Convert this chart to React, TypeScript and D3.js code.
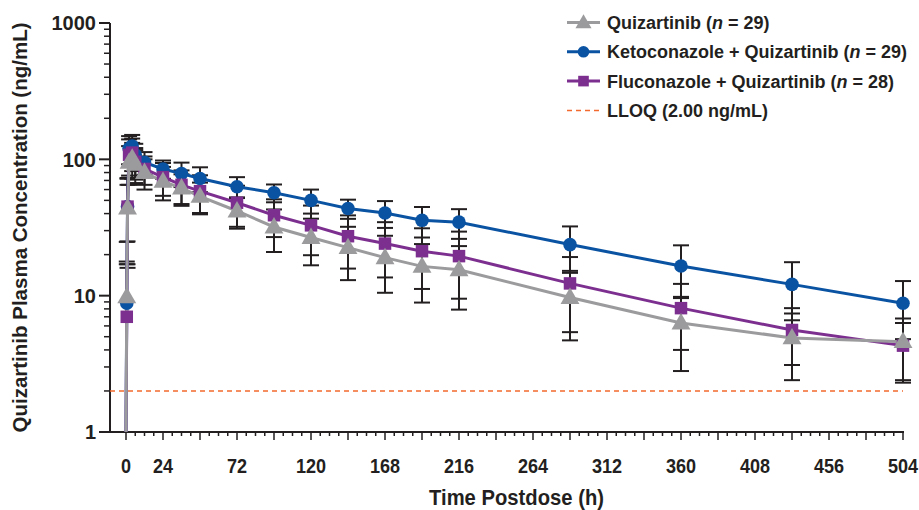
import React from 'react';
import * as d3 from 'd3';

// sampling times (h) and mean ± SD concentrations (ng/mL)
const times = [0, 0.5, 1, 2, 4, 6, 12, 24, 36, 48, 72, 96, 120, 144, 168, 192, 216, 288, 360, 432, 504];

const quizMean = [0, 9.8, 44, 95, 102, 92, 80, 69, 61.6, 53.5, 41.8, 31.9, 26.7, 22.5, 19.0, 16.4, 15.5, 9.7, 6.3, 4.9, 4.6];
const quizSd = [0, 15, 28, 30, 30, 25, 20, 19, 16, 14, 10.8, 11, 10, 9.5, 8.5, 7.5, 7.6, 5, 3.5, 2.5, 2.2];

const ketoMean = [0, 8.8, 45, 120, 125, 108, 95, 85, 78.6, 72.4, 63, 56.9, 50, 43.6, 40.4, 35.7, 34.6, 23.7, 16.5, 12.1, 8.8];
const ketoSd = [0, 9, 20, 28, 26, 22, 18, 13, 16, 15, 11, 8.5, 10, 7, 9, 9, 8.5, 8.5, 6.9, 5.5, 4.0];

const flucoMean = [0, 7.0, 45, 108, 112, 96, 85, 74, 65, 58.4, 48, 38.9, 32.8, 27.3, 24.1, 21.2, 19.5, 12.3, 8.1, 5.6, 4.3];
const flucoSd = [0, 10, 28, 32, 30, 25, 20, 20, 18, 18, 16, 12, 13, 11.5, 10.5, 10, 10, 6.9, 4.1, 2.5, 2.0];

const xTickLabels = [0, 24, 72, 120, 168, 216, 264, 312, 360, 408, 456, 504];
const yTickLabels = [1, 10, 100, 1000];
const LLOQ = 2.0;

const series = [
  { key: 'keto', label: 'Ketoconazole + Quizartinib', n: 29, mean: ketoMean, sd: ketoSd, color: '#0a53a3', shape: 'circle' },
  { key: 'fluco', label: 'Fluconazole + Quizartinib', n: 28, mean: flucoMean, sd: flucoSd, color: '#7d2f90', shape: 'square' },
  { key: 'quiz', label: 'Quizartinib', n: 29, mean: quizMean, sd: quizSd, color: '#9b9b9d', shape: 'triangle' },
];
const legendOrder = ['quiz', 'keto', 'fluco'];

const FONT = '"Liberation Sans", Arial, Helvetica, sans-serif';
const INK = '#231f20';

const Marker = ({ shape, x, y, color, size = 1 }: any) => {
  if (shape === 'circle') return <circle cx={x} cy={y} r={6.8 * size} fill={color} />;
  if (shape === 'square') {
    const s = 12.5 * size;
    return <rect x={x - s / 2} y={y - s / 2} width={s} height={s} fill={color} />;
  }
  const tri = d3.symbol(d3.symbolTriangle, 155 * size * size)();
  return <path d={tri as string} transform={`translate(${x},${y + 1})`} fill={color} />;
};

export default function App() {
  const width = 919, height = 510;
  const x = d3.scaleLinear().domain([0, 504]).range([126, 903]);
  const y = d3.scaleLog().domain([1, 1000]).range([432, 23]);
  const axisX = 110;
  const base = y(1);
  const yv = (v: number) => (v > 0 ? y(Math.max(v, 1)) : base);

  const line = d3.line<number>()
    .x((_, i) => x(times[i]))
    .y(d => yv(d));

  const yMinor: number[] = [];
  [1, 10, 100].forEach(dec => d3.range(2, 10).forEach(k => yMinor.push(dec * k)));
  const xTicks = d3.range(0, 505, 6);

  return (
    <svg width={width} height={height} style={{ position: 'absolute', left: 0, top: 0 }} fontFamily={FONT}>
      <rect width={width} height={height} fill="#fff" />

      {/* y axis */}
      <line x1={axisX} x2={axisX} y1={y(1000)} y2={base} stroke={INK} strokeWidth={2} />
      {yTickLabels.map(t => (
        <g key={t}>
          <line x1={axisX - 11} x2={axisX} y1={y(t)} y2={y(t)} stroke={INK} strokeWidth={2} />
          <text x={axisX - 14} y={y(t)} dy="0.36em" textAnchor="end" fontSize={20} fontWeight="bold" fill={INK}>{t}</text>
        </g>
      ))}
      {yMinor.map(t => (
        <line key={t} x1={axisX - 6} x2={axisX} y1={y(t)} y2={y(t)} stroke={INK} strokeWidth={1.5} />
      ))}
      <text transform={`translate(20,${(y(1000) + base) / 2}) rotate(-90)`} textAnchor="middle" dy="0.35em"
        fontSize={20.5} fontWeight="bold" fill={INK}>Quizartinib Plasma Concentration (ng/mL)</text>

      {/* x axis */}
      <line x1={axisX} x2={x(504) + 1} y1={base} y2={base} stroke={INK} strokeWidth={2} />
      {xTicks.map(t => (
        <line key={t} x1={x(t)} x2={x(t)} y1={base} y2={base + (t % 24 === 0 ? 8 : 4)} stroke={INK} strokeWidth={1.5} />
      ))}
      {xTickLabels.map(t => (
        <text key={t} transform={`translate(${x(t)},473) scale(0.88,1)`} textAnchor="middle" fontSize={20.5} fontWeight="bold" fill={INK}>{t}</text>
      ))}
      <text transform={`translate(${(x(0) + x(504)) / 2 + 2},505) scale(0.92,1)`} textAnchor="middle" fontSize={22} fontWeight="bold" fill={INK}>
        Time Postdose (h)
      </text>

      {/* LLOQ */}
      <line x1={axisX} x2={x(504)} y1={y(LLOQ)} y2={y(LLOQ)} stroke="#f26a2e" strokeWidth={1.5} strokeDasharray="5,4" />

      {/* error bars (lower half omitted when mean − SD falls below the axis) */}
      {series.map(s => s.mean.map((m, i) => {
        if (m <= 0 || s.sd[i] <= 0) return null;
        const hi = m + s.sd[i];
        const lo = m - s.sd[i];
        const cx = x(times[i]);
        return (
          <g key={`${s.key}-${i}`} stroke={INK} strokeWidth={2}>
            <line x1={cx} x2={cx} y1={y(hi)} y2={lo > 1 ? y(lo) : y(m)} />
            <line x1={cx - 8} x2={cx + 8} y1={y(hi)} y2={y(hi)} />
            {lo > 1 && <line x1={cx - 8} x2={cx + 8} y1={y(lo)} y2={y(lo)} />}
          </g>
        );
      }))}

      {/* lines */}
      {series.map(s => (
        <path key={s.key} d={line(s.mean) as string} fill="none" stroke={s.color} strokeWidth={3} />
      ))}

      {/* markers */}
      {series.map(s => s.mean.map((m, i) => m > 0 ? (
        <Marker key={`${s.key}-m${i}`} shape={s.shape} x={x(times[i])} y={y(m)} color={s.color} />
      ) : null))}

      {/* legend */}
      {legendOrder.map((k, i) => {
        const s = series.find(d => d.key === k)!;
        const ly = 22.5 + i * 29.3;
        return (
          <g key={k}>
            <line x1={567} x2={600} y1={ly} y2={ly} stroke={s.color} strokeWidth={3} />
            <Marker shape={s.shape} x={583.5} y={ly} color={s.color} size={0.85} />
            <text x={607} y={ly} dy="0.36em" fontSize={18} fontWeight="bold" fill={INK}>
              {s.label} (<tspan fontStyle="italic">n</tspan> = {s.n})
            </text>
          </g>
        );
      })}
      <g>
        <line x1={567} x2={600} y1={22.5 + 3 * 29.3} y2={22.5 + 3 * 29.3} stroke="#f26a2e" strokeWidth={1.5} strokeDasharray="5,4" />
        <text x={607} y={22.5 + 3 * 29.3} dy="0.36em" fontSize={18} fontWeight="bold" fill={INK}>LLOQ (2.00 ng/mL)</text>
      </g>
    </svg>
  );
}
